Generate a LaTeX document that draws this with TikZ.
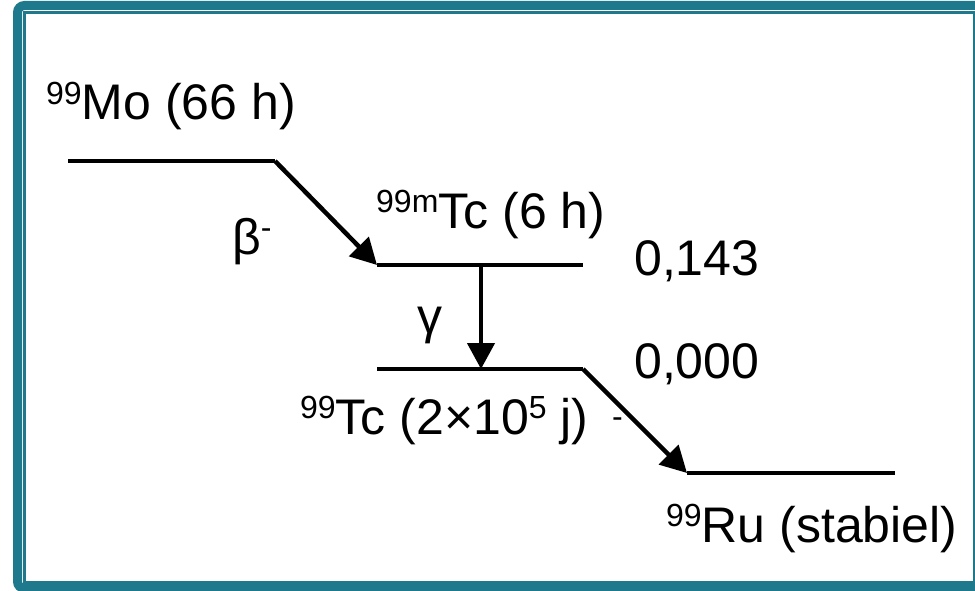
\documentclass[tikz,border=0pt]{standalone}
\usepackage{fontspec}
\setmainfont{Liberation Sans}
\usetikzlibrary{arrows.meta}
\definecolor{frameteal}{RGB}{31,121,140}
\newcommand{\sps}[1]{\raisebox{15.5pt}{\fontsize{32}{32}\selectfont #1}}
\begin{document}
\begin{tikzpicture}[x=1pt,y=-1pt,
  level/.style={line width=4.5pt},
  decay/.style={line width=4.5pt,-{Triangle[length=26pt,width=27pt]}},
  lbl/.style={anchor=base west,inner sep=0pt,font=\fontsize{50}{60}\selectfont},
  small/.style={anchor=base west,inner sep=0pt,font=\fontsize{32}{32}\selectfont}]
\useasboundingbox (0,0) rectangle (975,591);
\fill[white] (0,0) rectangle (975,591);
% frame
\draw[frameteal,line width=9pt,rounded corners=7pt] (17.5,5.5) rectangle (995,588.5);
\draw[frameteal,line width=3pt] (24.5,13) rectangle (974,582);
% level coordinates
\coordinate (mo1) at (68,161);
\coordinate (mo2) at (275,161);
\coordinate (tcm1) at (377,265);
\coordinate (tcm2) at (583,265);
\coordinate (tcmg) at (481,265);
\coordinate (tc1) at (377,369);
\coordinate (tc2) at (583,369);
\coordinate (tcg) at (481,369);
\coordinate (ru1) at (687,473);
\coordinate (ru2) at (895,473);
% levels
\draw[level] (mo1) -- (mo2);
\draw[level] (tcm1) -- (tcm2);
\draw[level] (tc1) -- (tc2);
\draw[level] (ru1) -- (ru2);
% transitions
\draw[decay] (mo2) -- (tcm1);
\draw[decay] (tcmg) -- (tcg);
\draw[decay] (tc2) -- (ru1);
% labels
\node[lbl] (mo) at (46,120) {\sps{99}Mo (66 h)};
\node[lbl] (tcm) at (376,228) {\sps{99m}Tc (6 h)};
\node[lbl] (tc) at (300,434) {\sps{99}Tc (2×10\sps{5} j)};
\node[lbl] (ru) at (666,542) {\sps{99}Ru (stabiel)};
\node[lbl] (e1) at (634,275) {0,143};
\node[lbl] (e0) at (634,378) {0,000};
\node[lbl] (beta) at (232,254) {β\sps{-}};
\node[lbl] (gam) at (417,333) {γ};
\node[small] (minus) at (612,427) {-};
\end{tikzpicture}
\end{document}
